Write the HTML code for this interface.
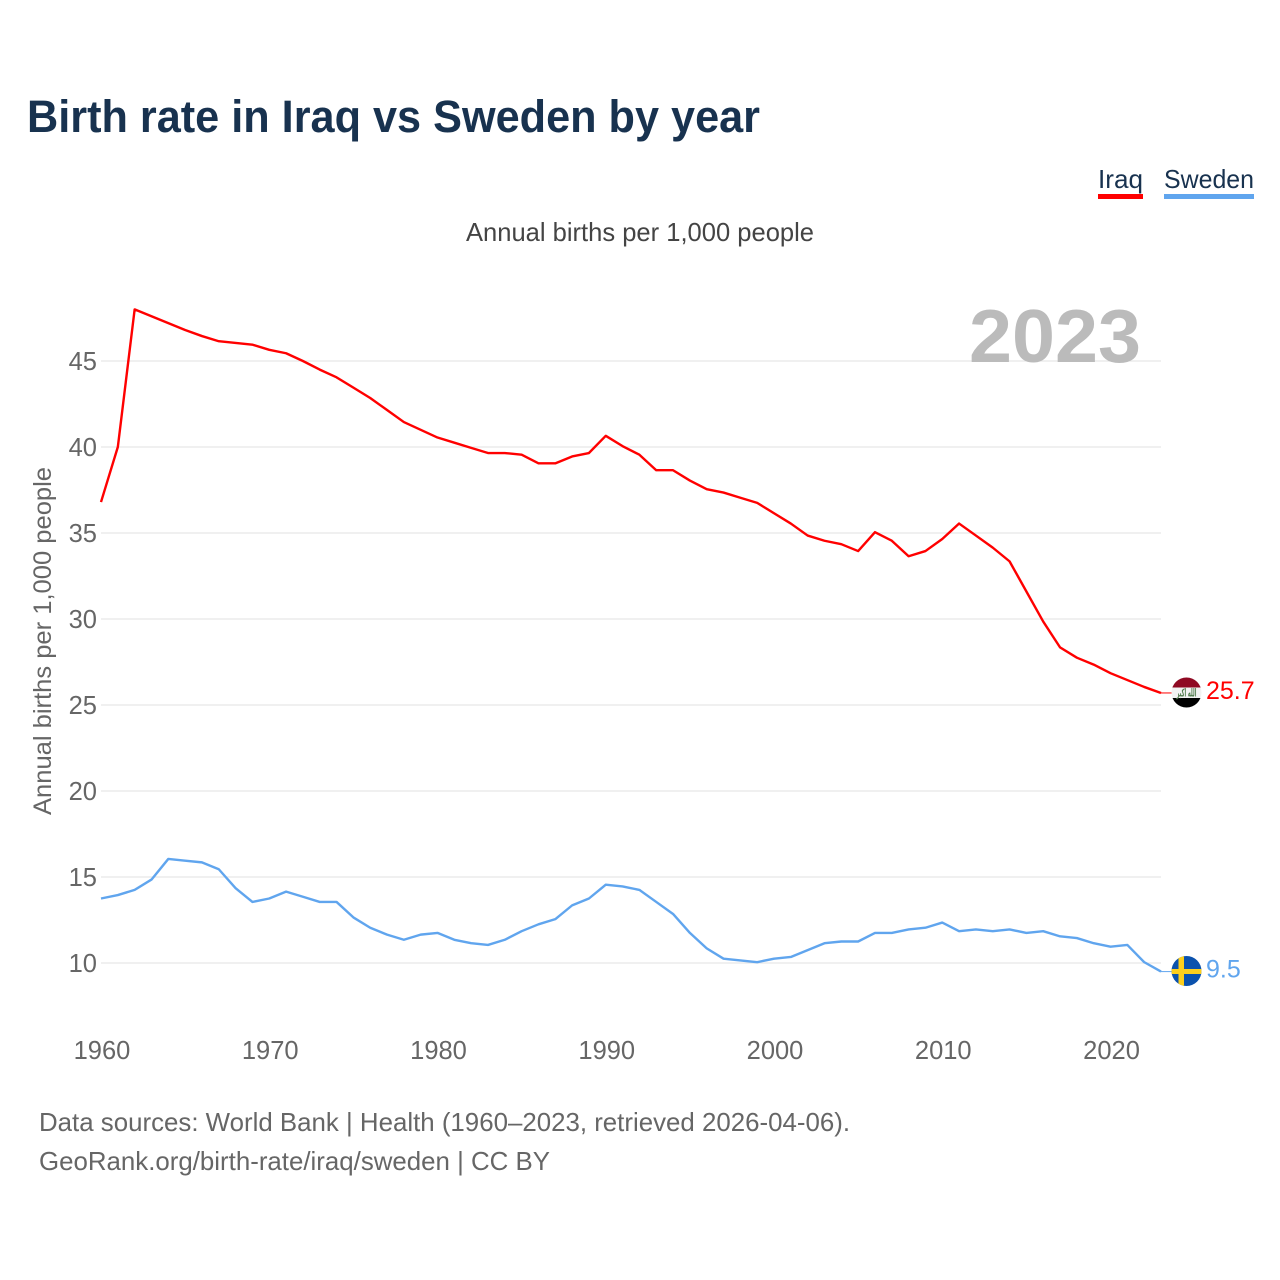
<!DOCTYPE html>
<html lang="en">
<head>
<meta charset="utf-8">
<title>Birth rate in Iraq vs Sweden by year</title>
<style>
html,body{margin:0;padding:0;background:#fff;width:1280px;height:1280px;overflow:hidden}
svg{display:block}
text{font-family:"Liberation Sans",sans-serif}
</style>
</head>
<body>
<svg id="chart" xmlns="http://www.w3.org/2000/svg" width="1280" height="1280" viewBox="0 0 1280 1280">
  <defs>
    <clipPath id="iraq-clip"><circle id="iraq-clip-circle" cx="1186.5" cy="692.5" r="15"/></clipPath>
    <clipPath id="sweden-clip"><circle id="sweden-clip-circle" cx="1186.5" cy="971" r="15"/></clipPath>
  </defs>
  <text x="27" y="132" font-size="45" font-weight="700" fill="#18324f" textLength="733" lengthAdjust="spacingAndGlyphs">Birth rate in Iraq vs Sweden by year</text>
  <g>
    <g>
      <text x="1098" y="188" font-size="26" fill="#18324f" textLength="45" lengthAdjust="spacingAndGlyphs">Iraq</text>
      <rect x="1098" y="194" width="45" height="5" fill="#ff0000"/>
    </g>
    <g>
      <text x="1164" y="188" font-size="26" fill="#18324f" textLength="90" lengthAdjust="spacingAndGlyphs">Sweden</text>
      <rect x="1164" y="194" width="90" height="5" fill="#60a5ee"/>
    </g>
  </g>
  <text x="466" y="241" font-size="26" fill="#444" textLength="348" lengthAdjust="spacingAndGlyphs">Annual births per 1,000 people</text>
  <text transform="translate(51,815) rotate(-90)" x="0" y="0" font-size="25" fill="#666" textLength="348" lengthAdjust="spacingAndGlyphs">Annual births per 1,000 people</text>
  <g id="grid"></g>
  <g id="y-ticks"></g>
  <g id="x-ticks"></g>
  <text x="969" y="362" font-size="75" font-weight="700" fill="#bbbbbb" textLength="172" lengthAdjust="spacingAndGlyphs">2023</text>
  <g id="series"></g>
  <g id="iraq-flag" clip-path="url(#iraq-clip)">
    <rect x="1171" y="677" width="31" height="10.5" fill="#8f0a23"/>
    <rect x="1171" y="687.5" width="31" height="10.5" fill="#f2f2f2"/>
    <rect x="1171" y="698" width="31" height="10" fill="#000"/>
    <text x="1176.5" y="696.5" font-size="11" font-weight="700" fill="#4f7a4c" textLength="20" lengthAdjust="spacingAndGlyphs" style="font-family:'DejaVu Sans',sans-serif">الله اكبر</text>
  </g>
  <g id="sweden-flag" clip-path="url(#sweden-clip)">
    <rect x="1171" y="955" width="31" height="32" fill="#0b52ad"/>
    <rect x="1178.5" y="955" width="5.5" height="32" fill="#fdcf1c"/>
    <rect x="1171" y="969" width="31" height="5" fill="#fdcf1c"/>
  </g>
  <g id="end-labels"></g>
  <g>
    <text x="39" y="1131" font-size="26" fill="#666" textLength="811" lengthAdjust="spacingAndGlyphs">Data sources: World Bank | Health (1960–2023, retrieved 2026-04-06).</text>
    <text x="39" y="1170" font-size="26" fill="#666" textLength="511" lengthAdjust="spacingAndGlyphs">GeoRank.org/birth-rate/iraq/sweden | CC BY</text>
  </g>
</svg>
<script>
const years = [1960,1961,1962,1963,1964,1965,1966,1967,1968,1969,1970,1971,1972,1973,1974,1975,1976,1977,1978,1979,1980,1981,1982,1983,1984,1985,1986,1987,1988,1989,1990,1991,1992,1993,1994,1995,1996,1997,1998,1999,2000,2001,2002,2003,2004,2005,2006,2007,2008,2009,2010,2011,2012,2013,2014,2015,2016,2017,2018,2019,2020,2021,2022,2023];
const iraqValues = [36.8,40.0,48.0,47.6,47.2,46.8,46.45,46.15,46.05,45.95,45.65,45.45,45.0,44.5,44.05,43.45,42.85,42.15,41.45,41.0,40.55,40.25,39.95,39.65,39.65,39.55,39.05,39.05,39.45,39.65,40.65,40.05,39.55,38.65,38.65,38.05,37.55,37.35,37.05,36.75,36.15,35.55,34.85,34.55,34.35,33.95,35.05,34.55,33.65,33.95,34.65,35.55,34.85,34.15,33.35,31.6,29.85,28.35,27.75,27.35,26.85,26.45,26.05,25.7];
const swedenValues = [13.75,13.95,14.25,14.85,16.05,15.95,15.85,15.45,14.35,13.55,13.75,14.15,13.85,13.55,13.55,12.65,12.05,11.65,11.35,11.65,11.75,11.35,11.15,11.05,11.35,11.85,12.25,12.55,13.35,13.75,14.55,14.45,14.25,13.55,12.85,11.75,10.85,10.25,10.15,10.05,10.25,10.35,10.75,11.15,11.25,11.25,11.75,11.75,11.95,12.05,12.35,11.85,11.95,11.85,11.95,11.75,11.85,11.55,11.45,11.15,10.95,11.05,10.05,9.5];
const yTickValues = [10,15,20,25,30,35,40,45];
const xTickValues = [1960,1970,1980,1990,2000,2010,2020];
const seriesColorIraq = '#ff0000';
const seriesColorSweden = '#60a5ee';

const NS = 'http://www.w3.org/2000/svg';
const plotLeft = 101, plotRight = 1161;
function xScale(year) { return plotLeft + (year - years[0]) * (plotRight - plotLeft) / (years[years.length - 1] - years[0]); }
function yScale(value) { return 963 - (value - 10) * 17.2; }
function make(tag, attrs, parent, content) {
  const el = document.createElementNS(NS, tag);
  for (const k in attrs) el.setAttribute(k, attrs[k]);
  if (content !== undefined) el.textContent = content;
  parent.appendChild(el);
  return el;
}
const gridGroup = document.getElementById('grid');
const yTickGroup = document.getElementById('y-ticks');
const xTickGroup = document.getElementById('x-ticks');
const seriesGroup = document.getElementById('series');
const labelGroup = document.getElementById('end-labels');

yTickValues.forEach(function (v) {
  const line = make('line', {x1: plotLeft, x2: plotRight, y1: yScale(v), y2: yScale(v), stroke: '#e6e6e6', 'stroke-width': 1.2}, gridGroup);
  
  
  const label = make('text', {x: 97, y: yScale(v) + 9, 'text-anchor': 'end', 'font-size': 25.5, fill: '#666'}, yTickGroup, String(v));
  
  
});
xTickValues.forEach(function (yr) {
  const label = make('text', {x: xScale(yr) + 1, y: 1059, 'text-anchor': 'middle', 'font-size': 25.5, fill: '#666'}, xTickGroup, String(yr));
  
  
});
function linePath(values) {
  return values.map(function (v, i) { return (i ? 'L' : 'M') + xScale(years[i]).toFixed(2) + ' ' + yScale(v).toFixed(2); }).join('');
}
const iraqLine = make('path', {d: linePath(iraqValues), fill: 'none', stroke: seriesColorIraq, 'stroke-width': 2.4, 'stroke-linejoin': 'round'}, seriesGroup);


const swedenLine = make('path', {d: linePath(swedenValues), fill: 'none', stroke: seriesColorSweden, 'stroke-width': 2.4, 'stroke-linejoin': 'round'}, seriesGroup);



const iraqLast = iraqValues[iraqValues.length - 1];
const swedenLast = swedenValues[swedenValues.length - 1];
const iraqConnector = make('line', {x1: plotRight, x2: 1172, y1: yScale(iraqLast), y2: yScale(iraqLast), stroke: seriesColorIraq, 'stroke-width': 1}, seriesGroup);


const swedenConnector = make('line', {x1: plotRight, x2: 1172, y1: yScale(swedenLast), y2: yScale(swedenLast), stroke: seriesColorSweden, 'stroke-width': 1}, seriesGroup);



const iraqEndLabel = make('text', {x: 1206, y: yScale(iraqLast) + 6, 'font-size': 25, fill: seriesColorIraq}, labelGroup, iraqLast.toFixed(1));


const swedenEndLabel = make('text', {x: 1206, y: yScale(swedenLast) + 6, 'font-size': 25, fill: seriesColorSweden}, labelGroup, swedenLast.toFixed(1));


</script>
</body>
</html>
